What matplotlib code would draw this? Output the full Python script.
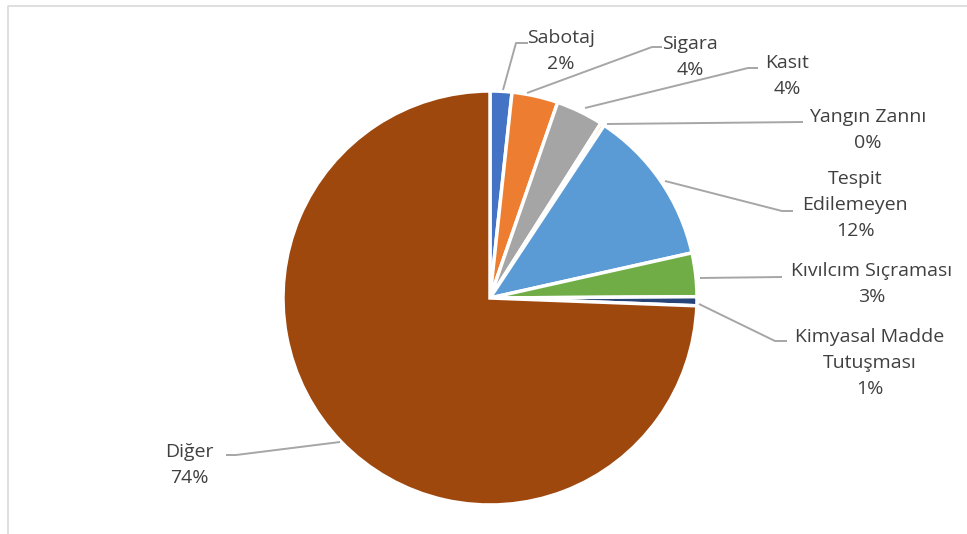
import matplotlib
matplotlib.use('Agg')
import matplotlib.pyplot as plt

# slice data (clockwise from 12 o'clock)
causes = ['Sabotaj', 'Sigara', 'Kasıt', 'Yangın Zannı', 'Tespit\nEdilemeyen',
          'Kıvılcım Sıçraması', 'Kimyasal Madde\nTutuşması', 'Diğer']
shares = [1.7, 3.6, 3.7, 0.3, 12.2, 3.4, 0.7, 74.4]
colors = ['#4472C4', '#ED7D31', '#A5A5A5', '#FFC000', '#5B9BD5',
          '#70AD47', '#264478', '#9E480E']

W, H = 967, 534

def fy(py):
    # pixel row -> data y
    return H - py

# label layout in pixel coords: text centre, leader line points
layout = [
    ((561, 51), [(503, 90), (516, 43), (528, 43)]),
    ((690, 57), [(527, 93), (652, 47), (662, 47)]),
    ((787, 76), [(585, 108), (748, 68), (758, 68)]),
    ((868, 130), [(607, 124), (803, 122)]),
    ((855, 205), [(665, 181), (782, 211), (793, 211)]),
    ((872, 284), [(700, 278), (782, 277)]),
    ((870, 363), [(699, 304), (775, 341), (787, 341)]),
    ((189, 465), [(340, 442), (236, 455), (226, 455)]),
]

fig = plt.figure(figsize=(W / 100, H / 100), dpi=100)
ax = fig.add_axes([0, 0, 1, 1])

ax.pie(shares, colors=colors, startangle=90, counterclock=False,
       center=(490, fy(298)), radius=207,
       wedgeprops=dict(edgecolor='white', linewidth=2.5))

ax.set_xlim(0, W)
ax.set_ylim(0, H)
ax.set_aspect('equal')
ax.axis('off')

for name, val, (pos, line) in zip(causes, shares, layout):
    xs = [p[0] for p in line]
    ys = [fy(p[1]) for p in line]
    ax.plot(xs, ys, color='#a6a6a6', lw=1.4, solid_capstyle='butt')
    ax.text(pos[0], fy(pos[1]), f'{name}\n{round(val)}%', ha='center', va='center',
            fontsize=14, family='Open Sans', color='#404040', linespacing=1.55)

# chart frame (only top and left edges visible)
ax.plot([8, 8, W], [0, fy(6), fy(6)], color='#d9d9d9', lw=1.2)

fig.savefig('out.png', dpi=100)
